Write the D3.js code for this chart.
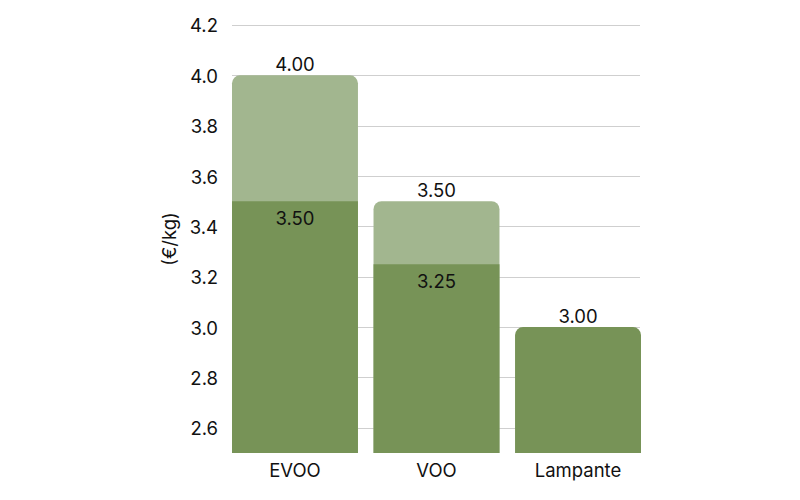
<!DOCTYPE html>
<html>
<head>
<meta charset="utf-8">
<script src="https://cdn.jsdelivr.net/npm/d3@7"></script>
<style>
  body { margin: 0; background: #fff; }
  text { font-family: Inter, "Noto Sans", sans-serif; fill: #111; }
</style>
</head>
<body>
<svg id="chart"></svg>
<script>
const WIDTH = 800;
const HEIGHT = 500;

const categories = ['EVOO', 'VOO', 'Lampante'];
const lowValues = [3.50, 3.25, 3.00];
const highValues = [4.00, 3.50, 3.00];
const yTicks = [2.6, 2.8, 3.0, 3.2, 3.4, 3.6, 3.8, 4.0, 4.2];

const LIGHT = '#a2b68f';
const DARK = '#779357';
const RADIUS = 8;
const FONT = '18.5px';

const margin = { top: 25, right: 160, bottom: 47, left: 232 };

const svg = d3.select('#chart')
    .attr('width', WIDTH)
    .attr('height', HEIGHT);

const x = d3.scaleBand()
    .domain(categories)
    .range([margin.left, WIDTH - margin.right + 1])
    .paddingInner(0.11)
    .paddingOuter(0);

const y = d3.scaleLinear()
    .domain([2.5, 4.2])
    .range([HEIGHT - margin.bottom, margin.top]);

// gridlines
svg.append('g')
    .selectAll('line')
    .data(yTicks)
    .join('line')
    .attr('x1', margin.left)
    .attr('x2', WIDTH - margin.right)
    .attr('y1', d => Math.round(y(d)) + 0.5)
    .attr('y2', d => Math.round(y(d)) + 0.5)
    .attr('stroke', '#cfcfcf')
    .attr('stroke-width', 1);

// y tick labels
svg.append('g')
    .selectAll('text')
    .data(yTicks)
    .join('text')
    .attr('x', 218)
    .attr('y', d => y(d) + 1)
    .attr('dy', '0.35em')
    .attr('text-anchor', 'end')
    .style('font-size', FONT)
    .text(d => d.toFixed(1));

// y axis title
svg.append('text')
    .attr('transform', `translate(170,${(margin.top + HEIGHT - margin.bottom) / 2}) rotate(-90)`)
    .attr('dy', '0.35em')
    .attr('text-anchor', 'middle')
    .style('font-size', FONT)
    .text('(€/kg)');

const rows = categories.map((c, i) => ({ name: c, low: lowValues[i], high: highValues[i] }));

// rounded top rect path
function topRounded(x0, y0, w, h, r) {
    const p = d3.path();
    p.moveTo(x0, y0 + h);
    p.lineTo(x0, y0 + r);
    p.arcTo(x0, y0, x0 + r, y0, r);
    p.lineTo(x0 + w - r, y0);
    p.arcTo(x0 + w, y0, x0 + w, y0 + r, r);
    p.lineTo(x0 + w, y0 + h);
    p.closePath();
    return p.toString();
}

const base = y.domain()[0];

// light (full) bars
svg.append('g')
    .selectAll('path')
    .data(rows)
    .join('path')
    .attr('fill', d => d.high > d.low ? LIGHT : DARK)
    .attr('d', d => topRounded(x(d.name), y(d.high), x.bandwidth(), y(base) - y(d.high), RADIUS));

// dark (lower) segments
svg.append('g')
    .selectAll('path')
    .data(rows.filter(d => d.high > d.low))
    .join('path')
    .attr('fill', DARK)
    .attr('d', d => topRounded(x(d.name), y(d.low), x.bandwidth(), y(base) - y(d.low), 0));

// value labels above bars
svg.append('g')
    .selectAll('text')
    .data(rows)
    .join('text')
    .attr('x', d => x(d.name) + x.bandwidth() / 2)
    .attr('y', d => y(d.high) - 4)
    .attr('text-anchor', 'middle')
    .style('font-size', FONT)
    .text(d => d.high.toFixed(2));

// value labels inside bars
svg.append('g')
    .selectAll('text')
    .data(rows.filter(d => d.high > d.low))
    .join('text')
    .attr('x', d => x(d.name) + x.bandwidth() / 2)
    .attr('y', d => y(d.low) + 17)
    .attr('dy', '0.35em')
    .attr('text-anchor', 'middle')
    .style('font-size', FONT)
    .text(d => d.low.toFixed(2));

// category labels
svg.append('g')
    .selectAll('text')
    .data(categories)
    .join('text')
    .attr('x', d => x(d) + x.bandwidth() / 2)
    .attr('y', 471)
    .attr('dy', '0.35em')
    .attr('text-anchor', 'middle')
    .style('font-size', FONT)
    .text(d => d);
</script>
</body>
</html>
